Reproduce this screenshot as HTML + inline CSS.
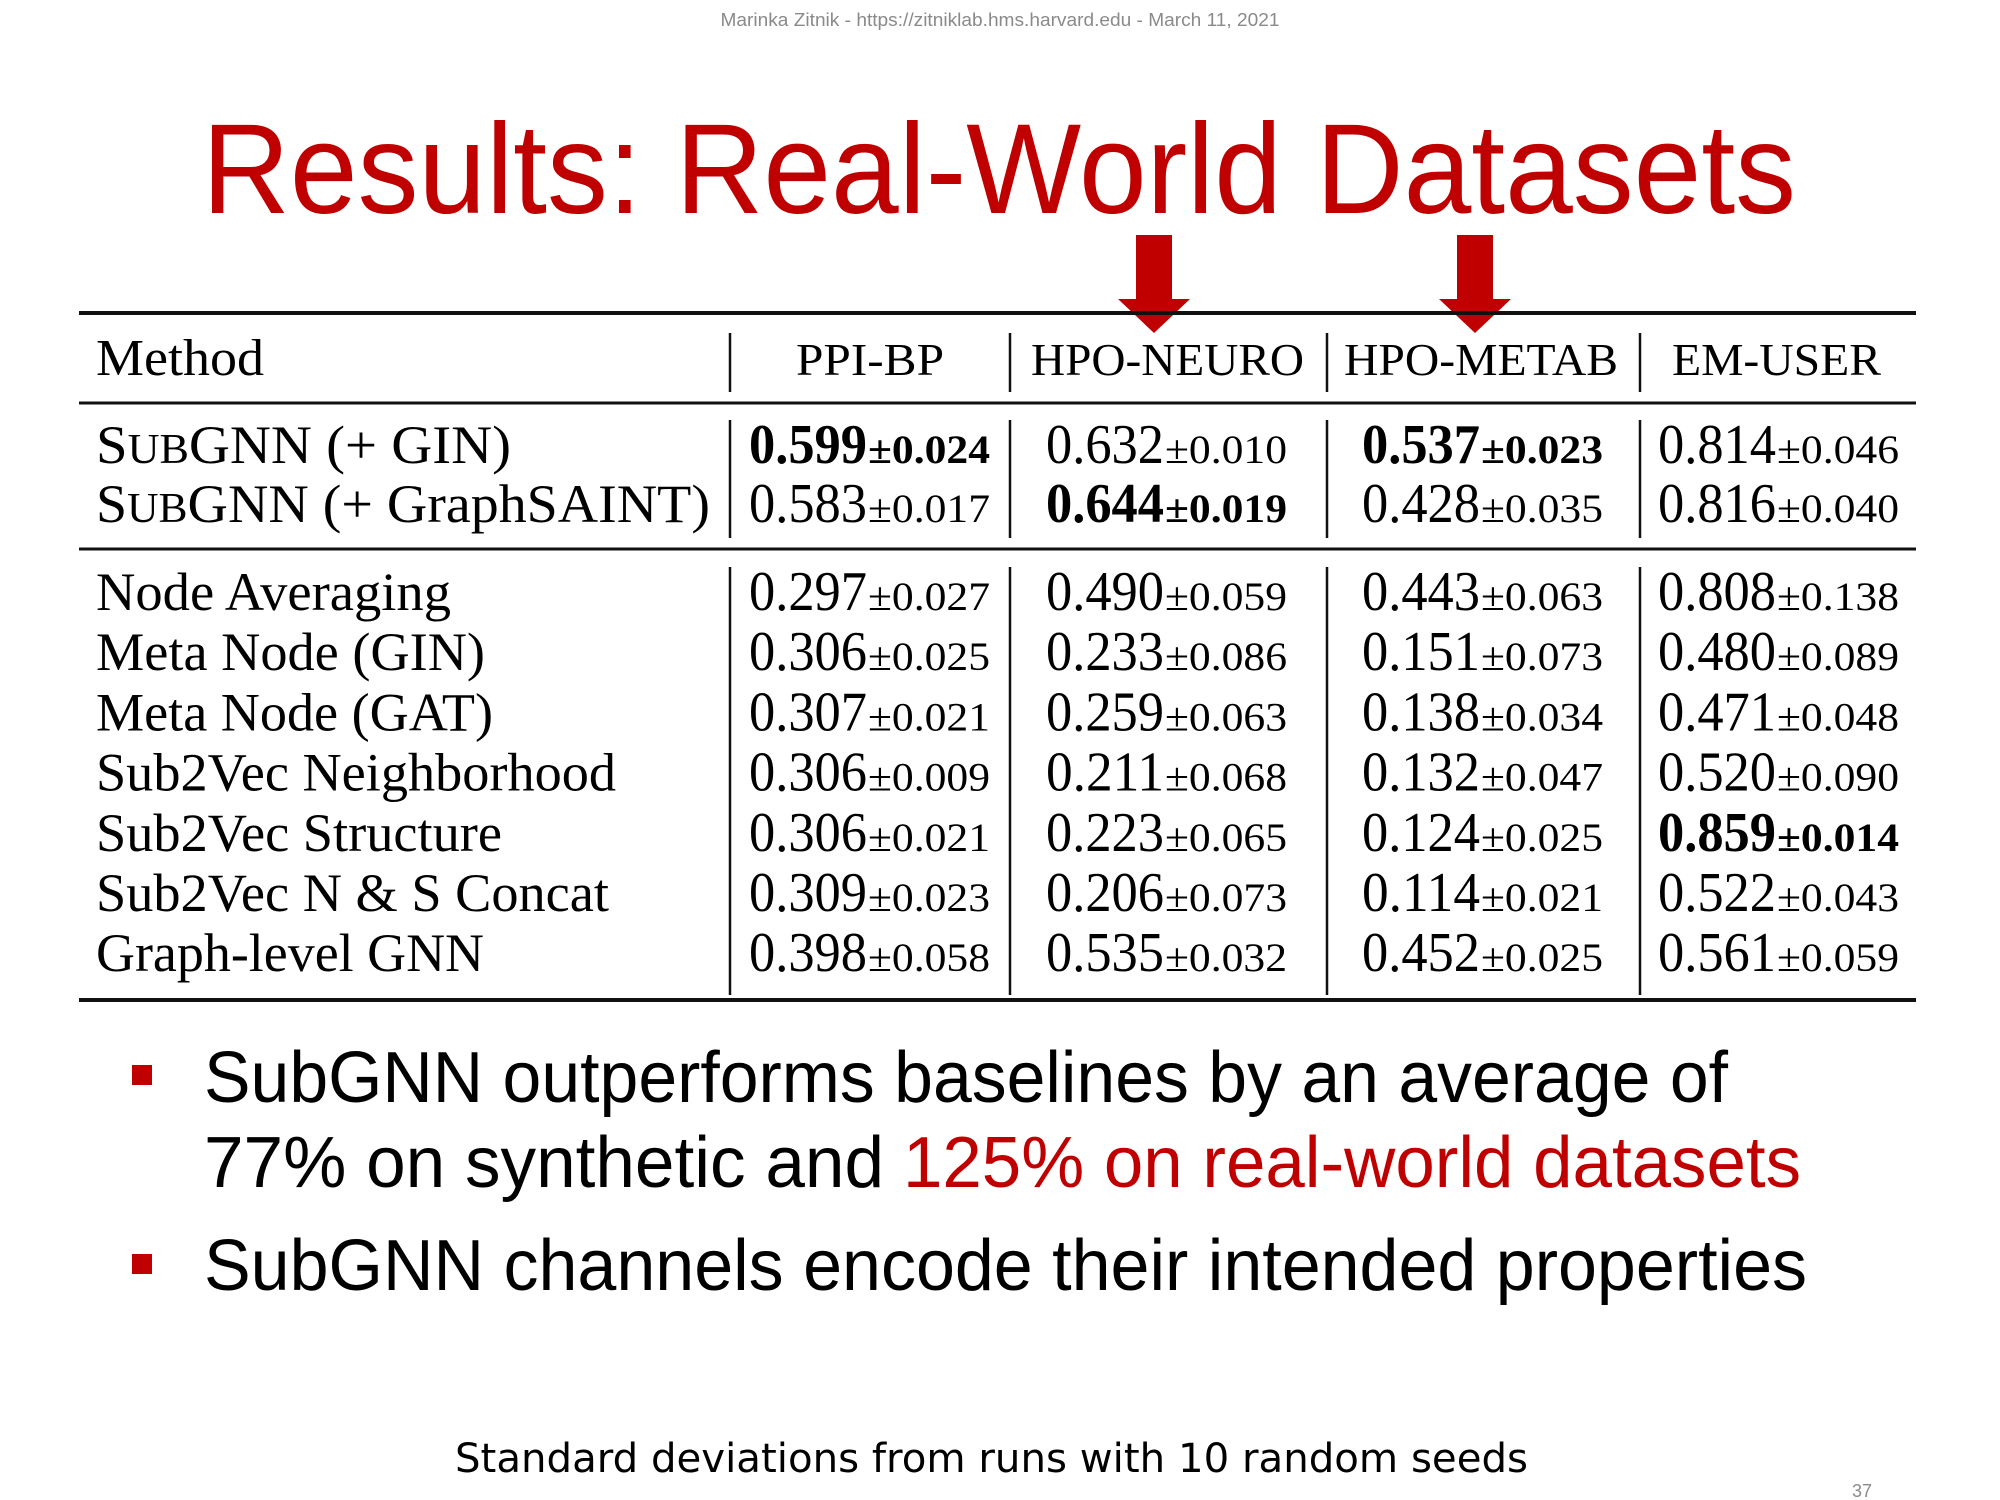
<!DOCTYPE html>
<html><head><meta charset="utf-8"><style>
html,body{margin:0;padding:0;background:#fff;}
svg{display:block;}
</style></head><body>
<svg id="slide" width="2000" height="1500" viewBox="0 0 2000 1500" xmlns="http://www.w3.org/2000/svg">
<rect x="0" y="0" width="2000" height="1500" fill="#fff"/>
<text x="1000" y="26" text-anchor="middle" font-family="Liberation Sans, sans-serif" font-size="18" fill="#8a8a8a" textLength="559" lengthAdjust="spacingAndGlyphs">Marinka Zitnik - https://zitniklab.hms.harvard.edu - March 11, 2021</text>
<text x="202" y="213" font-family="Liberation Sans, sans-serif" font-size="128" fill="#c00000" textLength="1594" lengthAdjust="spacingAndGlyphs">Results: Real-World Datasets</text>
<g id="arrows"></g>
<g id="table"></g>
<rect x="132" y="1065" width="20" height="20" fill="#c00000"/>
<text x="204" y="1102" font-family="Liberation Sans, sans-serif" font-size="72" fill="#000" textLength="1524" lengthAdjust="spacingAndGlyphs">SubGNN outperforms baselines by an average of</text>
<text x="204" y="1187" font-family="Liberation Sans, sans-serif" font-size="72" fill="#000" textLength="680" lengthAdjust="spacingAndGlyphs">77% on synthetic and</text>
<text x="903" y="1187" font-family="Liberation Sans, sans-serif" font-size="72" fill="#c00000" textLength="898" lengthAdjust="spacingAndGlyphs">125% on real-world datasets</text>
<rect x="132" y="1254" width="20" height="20" fill="#c00000"/>
<text x="204" y="1290" font-family="Liberation Sans, sans-serif" font-size="72" fill="#000" textLength="1603" lengthAdjust="spacingAndGlyphs">SubGNN channels encode their intended properties</text>
<text x="455" y="1472" font-family="DejaVu Sans, sans-serif" font-size="40" fill="#000" textLength="1073" lengthAdjust="spacingAndGlyphs">Standard deviations from runs with 10 random seeds</text>
<text x="1852" y="1497" font-family="Liberation Sans, sans-serif" font-size="18" fill="#8a8a8a">37</text>
</svg>
<script>
const methods = ["SubGNN (+ GIN)","SubGNN (+ GraphSAINT)","Node Averaging","Meta Node (GIN)","Meta Node (GAT)","Sub2Vec Neighborhood","Sub2Vec Structure","Sub2Vec N & S Concat","Graph-level GNN"];
const datasets = ["PPI-BP","HPO-NEURO","HPO-METAB","EM-USER"];
const meanPPI = [0.599,0.583,0.297,0.306,0.307,0.306,0.306,0.309,0.398];
const sdPPI = [0.024,0.017,0.027,0.025,0.021,0.009,0.021,0.023,0.058];
const meanNEURO = [0.632,0.644,0.490,0.233,0.259,0.211,0.223,0.206,0.535];
const sdNEURO = [0.010,0.019,0.059,0.086,0.063,0.068,0.065,0.073,0.032];
const meanMETAB = [0.537,0.428,0.443,0.151,0.138,0.132,0.124,0.114,0.452];
const sdMETAB = [0.023,0.035,0.063,0.073,0.034,0.047,0.025,0.021,0.025];
const meanUSER = [0.814,0.816,0.808,0.480,0.471,0.520,0.859,0.522,0.561];
const sdUSER = [0.046,0.040,0.138,0.089,0.048,0.090,0.014,0.043,0.059];
const arrowCols = [1,2];

const NS = "http://www.w3.org/2000/svg";
const tbl = document.getElementById('table');
function mk(tag, attrs, parent){
  const e = document.createElementNS(NS, tag);
  for (const k in attrs) e.setAttribute(k, attrs[k]);
  parent.appendChild(e); return e;
}
const serif = "Liberation Serif, serif";
const methodW = [415,614,355,389,397,520,406,513,388];
const headerX = [796,1031,1344,1672], headerW = [148,273,274,209];
const colX = [749,1046,1362,1658];
const sepX = [730,1010,1327,1640];
function rowY(i){ return i < 2 ? 463 + i*59 : 610 + (i-2)*60.2; }
// rules
[[313,4],[403,3],[549,3],[1000,4]].forEach(function(r, i){
  const l = mk('line', {x1:79, x2:1916, y1:r[0], y2:r[0], stroke:'#111', 'stroke-width':r[1]}, tbl);
  
  
});
// vertical separators
sepX.forEach(function(x, i){
  [[333,392],[420,538],[567,995]].forEach(function(s, j){
    const l = mk('line', {x1:x, x2:x, y1:s[0], y2:s[1], stroke:'#111', 'stroke-width':2.5}, tbl);
    
    
  });
});
// header
const mh = mk('text', {x:96, y:375, 'font-family':serif, 'font-size':52, textLength:168, lengthAdjust:'spacingAndGlyphs'}, tbl);
mh.textContent = "Method";


datasets.forEach(function(d, i){
  const t = mk('text', {x:headerX[i], y:375, 'font-family':serif, 'font-size':46, textLength:headerW[i], lengthAdjust:'spacingAndGlyphs'}, tbl);
  t.textContent = d;
  
  
});
// method names
methods.forEach(function(m, i){
  const t = mk('text', {x:96, y:rowY(i), 'font-family':serif, 'font-size':54, textLength:methodW[i], lengthAdjust:'spacingAndGlyphs'}, tbl);
  if (m.indexOf('SubGNN') === 0) {
    const a = mk('tspan', {}, t); a.textContent = 'S';
    const b = mk('tspan', {'font-size':42}, t); b.textContent = 'UB';
    const c = mk('tspan', {}, t); c.textContent = m.slice(3);
  } else t.textContent = m;
  
  
});
// values
const means = [meanPPI, meanNEURO, meanMETAB, meanUSER];
const sds = [sdPPI, sdNEURO, sdMETAB, sdUSER];
means.forEach(function(col, c){
  const mx = Math.max.apply(null, col);
  col.forEach(function(v, i){
    const bold = v === mx;
    const y = rowY(i);
    const t = mk('text', {x:colX[c], y:y, 'font-family':serif, 'font-size':56, 'font-weight':bold?'bold':'normal', textLength:118, lengthAdjust:'spacingAndGlyphs'}, tbl);
    t.textContent = v.toFixed(3);
    
    
    const s = mk('text', {x:colX[c]+119, y:y, 'font-family':serif, 'font-size':40, 'font-weight':bold?'bold':'normal', textLength:122, lengthAdjust:'spacingAndGlyphs'}, tbl);
    s.textContent = '\u00b1' + sds[c][i].toFixed(3);
    
    
  });
});
// arrows
const arrows = document.getElementById('arrows');
const arrowCX = [1154, 1475];
arrowCols.forEach(function(c, k){
  const cx = arrowCX[k];
  const p = mk('polygon', {points:[[cx-18,235],[cx+18,235],[cx+18,299],[cx+36,299],[cx,333],[cx-36,299],[cx-18,299]].map(function(q){return q.join(',');}).join(' '), fill:'#c00000'}, arrows);
  
  
});
</script>
</body></html>
